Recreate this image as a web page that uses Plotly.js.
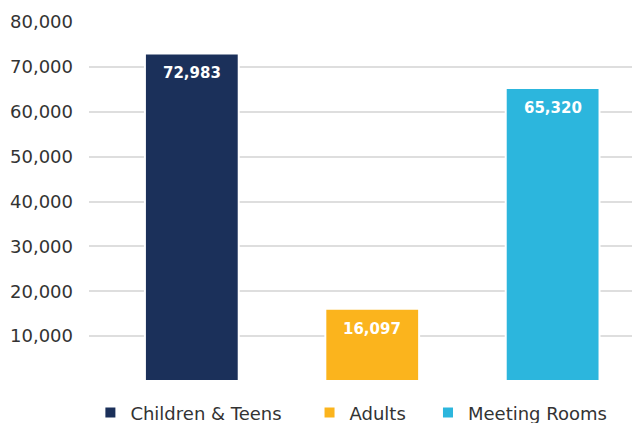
<!DOCTYPE html>
<html><head><meta charset="utf-8">
<script src="https://cdn.plot.ly/plotly-3.0.1.min.js"></script>
<style>html,body{margin:0;padding:0;background:#fff}#chart{width:632px;height:423px}</style>
</head><body><div id="chart"></div>
<script>
const categories = ["Children & Teens", "Adults", "Meeting Rooms"];
const values = [72983, 16097, 65320];
const colors = ["#1b305a", "#fbb41d", "#2cb6dd"];
const yTickVals = [0, 10000, 20000, 30000, 40000, 50000, 60000, 70000, 80000];
const yTickText = ["", "10,000", "20,000", "30,000", "40,000", "50,000", "60,000", "70,000", "80,000"];
const legendPad = ["\u00a0\u00a0\u00a0\u00a0", "\u00a0\u00a0\u00a0", ""];

const FONT = "DejaVu Sans, sans-serif";
const traces = categories.map((c, i) => ({
  type: "bar",
  name: c + legendPad[i],
  x: [c],
  y: [values[i]],
  width: 0.52,
  marker: { color: colors[i], line: { color: "#ffffff", width: 2 } },
  hoverinfo: "none"
}));

const annotations = categories.map((c, i) => ({
  x: c, y: values[i], xref: "x", yref: "y",
  text: values[i].toLocaleString("en-US"),
  showarrow: false, yanchor: "middle", xanchor: "center", yshift: -20,
  font: { family: FONT, size: 15, color: "#ffffff", weight: "bold" }
}));

const layout = {
  width: 632, height: 423,
  margin: { l: 89, r: 0, t: 22, b: 42, autoexpand: false },
  paper_bgcolor: "#ffffff", plot_bgcolor: "#ffffff",
  barmode: "overlay",
  showlegend: true,
  annotations: annotations,
  legend: {
    orientation: "h", x: 0.556, xref: "container", xanchor: "center",
    y: 0.024, yref: "container", yanchor: "middle",
    font: { family: FONT, size: 18, color: "#333333" },
    itemwidth: 30, tracegroupgap: 0
  },
  xaxis: {
    type: "category", categoryarray: categories,
    range: [-0.57, 2.44], showticklabels: false, showgrid: false,
    zeroline: false, showline: false, ticks: ""
  },
  yaxis: {
    range: [0, 80000], tickvals: yTickVals, ticktext: yTickText,
    showgrid: true, gridcolor: "#dedede", gridwidth: 2,
    zeroline: false, showline: false, ticks: "",
    ticklabelstandoff: 15,
    tickfont: { family: FONT, size: 18, color: "#333333" }
  }
};
Plotly.newPlot("chart", traces, layout, { displayModeBar: false, staticPlot: true });
</script></body></html>
